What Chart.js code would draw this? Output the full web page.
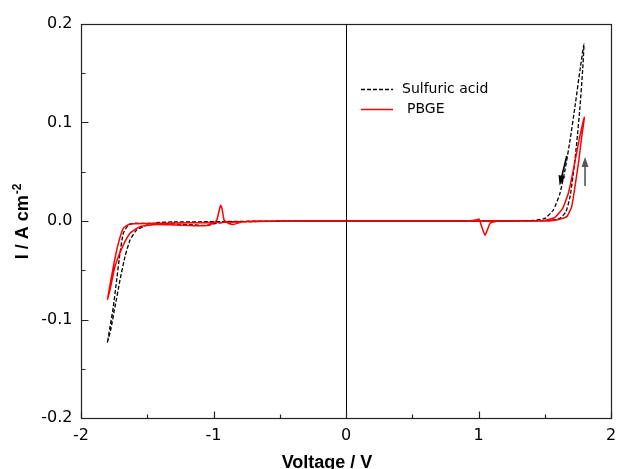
<!DOCTYPE html>
<html>
<head>
<meta charset="utf-8">
<script src="https://cdn.jsdelivr.net/npm/chart.js@4.4.1/dist/chart.umd.min.js"></script>
<style>
  html, body { margin: 0; padding: 0; background: #fff; }
</style>
</head>
<body>
<canvas id="cv" width="617" height="469"></canvas>
<script>
// Sulfuric acid - forward sweep (left tip -> right tip)
const acidFwdV = [-1.801, -1.776, -1.743, -1.706, -1.668, -1.630, -1.580, -1.504, -1.429, -1.3, -1.1, -0.9, -0.5, 0, 0.5, 1.0, 1.3, 1.45, 1.54, 1.615, 1.66, 1.691, 1.716, 1.741, 1.766, 1.786, 1.796];
const acidFwdI = [-0.1235, -0.1107, -0.087, -0.060, -0.0362, -0.0193, -0.0091, -0.0041, -0.0017, -0.001, -0.0008, -0.0005, 0, 0, 0, 0, 0, 0.0002, 0.0005, 0.0027, 0.0094, 0.0247, 0.0484, 0.0789, 0.116, 0.1533, 0.1797];
// Sulfuric acid - return sweep
const acidRetV = [1.766, 1.728, 1.691, 1.653, 1.615, 1.565, 1.502, 1.414, 1.2, 0.8, 0.3, -0.3, -0.7, -0.9, -1.0, -1.05, -1.15, -1.3, -1.45, -1.55, -1.605, -1.643, -1.681, -1.706, -1.731, -1.756, -1.781, -1.801];
const acidRetI = [0.1533, 0.116, 0.0822, 0.0518, 0.0281, 0.0112, 0.0027, 0.0005, 0, 0, 0, 0, -0.0005, -0.001, -0.003, -0.0045, -0.004, -0.003, -0.0025, -0.0024, -0.0023, -0.0041, -0.0125, -0.0328, -0.060, -0.087, -0.1073, -0.1235];

// PBGE - forward sweep
const pbgeFwdV = [-1.801, -1.781, -1.743, -1.693, -1.630, -1.555, -1.429, -1.3, -1.15, -1.05, -1.0, -0.975, -0.955, -0.946, -0.935, -0.92, -0.89, -0.85, -0.80, -0.7, -0.3, 0.3, 0.9, 0.98, 1.004, 1.02, 1.049, 1.07, 1.09, 1.15, 1.3, 1.489, 1.59, 1.666, 1.703, 1.728, 1.754, 1.779, 1.799];
const pbgeFwdI = [-0.080, -0.070, -0.046, -0.028, -0.0125, -0.0058, -0.0035, -0.004, -0.0047, -0.0045, -0.002, 0.001, 0.012, 0.016, 0.012, 0.001, -0.002, -0.0035, -0.0015, -0.0003, 0, 0, 0, 0.001, 0.002, -0.004, -0.0142, -0.008, -0.002, 0, 0, 0, 0.001, 0.0044, 0.0145, 0.0348, 0.0586, 0.0856, 0.1053];
// PBGE - return sweep
const pbgeRetV = [1.754, 1.716, 1.678, 1.635, 1.577, 1.489, 1.3, 0.5, -0.5, -1.0, -1.3, -1.5, -1.63, -1.681, -1.718, -1.756, -1.801];
const pbgeRetI = [0.0789, 0.0518, 0.0281, 0.0129, 0.0038, 0.0003, 0, 0, 0, -0.0015, -0.002, -0.0025, -0.003, -0.0074, -0.0227, -0.0464, -0.080];

// axis ticks
const xMajorTicks = [-2, -1, 0, 1, 2];
const xMinorTicks = [-1.5, -0.5, 0.5, 1.5];
const yMajorTicks = [-0.2, -0.1, 0, 0.1, 0.2];
const yMinorTicks = [-0.15, -0.05, 0.05, 0.15];

// sweep direction arrows (data units)
const arrowFromV = [1.666, 1.804];
const arrowFromI = [0.066, 0.0355];
const arrowToV = [1.612, 1.804];
const arrowToI = [0.036, 0.065];
const arrowColors = ['#000000', '#555555'];

function toPoints(v1, i1, v2, i2) {
  const pts = v1.map((v, k) => ({ x: v, y: i1[k] }));
  v2.forEach((v, k) => pts.push({ x: v, y: i2[k] }));
  return pts;
}

function drawArrow(ctx, x1, y1, x2, y2, color) {
  const ang = Math.atan2(y2 - y1, x2 - x1);
  const hl = 10, hw = 3.5;
  const c = Math.cos(ang), s = Math.sin(ang);
  ctx.strokeStyle = color;
  ctx.fillStyle = color;
  ctx.lineWidth = 1.6;
  ctx.beginPath();
  ctx.moveTo(x1, y1);
  ctx.lineTo(x2 - hl * 0.7 * c, y2 - hl * 0.7 * s);
  ctx.stroke();
  ctx.beginPath();
  ctx.moveTo(x2, y2);
  ctx.lineTo(x2 - hl * c + hw * s, y2 - hl * s - hw * c);
  ctx.lineTo(x2 - hl * c - hw * s, y2 - hl * s + hw * c);
  ctx.closePath();
  ctx.fill();
}

const framePlugin = {
  id: 'frame',
  beforeDatasetsDraw(chart) {
    const { ctx, chartArea: a, scales } = chart;
    // vertical line at 0 V
    const x0 = Math.round(scales.x.getPixelForValue(0)) + 0.5;
    ctx.save();
    ctx.strokeStyle = '#000';
    ctx.lineWidth = 1;
    ctx.beginPath();
    ctx.moveTo(x0, a.top);
    ctx.lineTo(x0, a.bottom);
    ctx.stroke();
    ctx.restore();
  },
  afterDatasetsDraw(chart) {
    const { ctx, chartArea: a, scales } = chart;
    const L = Math.round(a.left) + 0.5, R = Math.round(a.right) + 0.5;
    const T = Math.round(a.top) + 0.5, B = Math.round(a.bottom) + 0.5;
    ctx.save();
    ctx.strokeStyle = '#222';
    ctx.lineWidth = 1.2;
    ctx.strokeRect(L, T, R - L, B - T);

    // inward ticks
    ctx.beginPath();
    xMajorTicks.forEach(v => {
      const px = Math.round(scales.x.getPixelForValue(v)) + 0.5;
      ctx.moveTo(px, B); ctx.lineTo(px, B - 7);
    });
    xMinorTicks.forEach(v => {
      const px = Math.round(scales.x.getPixelForValue(v)) + 0.5;
      ctx.moveTo(px, B); ctx.lineTo(px, B - 4);
    });
    yMajorTicks.forEach(v => {
      const py = Math.round(scales.y.getPixelForValue(v)) + 0.5;
      ctx.moveTo(L, py); ctx.lineTo(L + 7, py);
    });
    yMinorTicks.forEach(v => {
      const py = Math.round(scales.y.getPixelForValue(v)) + 0.5;
      ctx.moveTo(L, py); ctx.lineTo(L + 4, py);
    });
    ctx.stroke();

    // arrows
    arrowFromV.forEach((v, k) => {
      drawArrow(ctx,
        scales.x.getPixelForValue(v), scales.y.getPixelForValue(arrowFromI[k]),
        scales.x.getPixelForValue(arrowToV[k]), scales.y.getPixelForValue(arrowToI[k]),
        arrowColors[k]);
    });

    // legend
    const legendY = [89, 109];
    const textX = [402, 407];
    chart.data.datasets.forEach((ds, k) => {
      const y = legendY[k] + 0.5;
      ctx.strokeStyle = ds.borderColor;
      ctx.lineWidth = ds.borderWidth;
      ctx.setLineDash(ds.borderDash || []);
      ctx.beginPath();
      ctx.moveTo(361, y);
      ctx.lineTo(393, y);
      ctx.stroke();
      ctx.setLineDash([]);
      ctx.fillStyle = '#000';
      ctx.font = '14px "DejaVu Sans"';
      ctx.textBaseline = 'middle';
      ctx.textAlign = 'left';
      ctx.fillText(ds.label, textX[k], y);
    });

    // x axis title (sits a bit left of centre in the original)
    ctx.fillStyle = '#000';
    ctx.font = 'bold 18px "Liberation Sans"';
    ctx.textAlign = 'center';
    ctx.textBaseline = 'alphabetic';
    ctx.fillText('Voltage / V', 327, 468);

    // y axis title with superscript
    ctx.translate(21, 222);
    ctx.rotate(-Math.PI / 2);
    ctx.textAlign = 'left';
    const main = 'I / A cm', sup = '-2';
    ctx.font = 'bold 18px "Liberation Sans"';
    const w1 = ctx.measureText(main).width;
    ctx.font = 'bold 12px "Liberation Sans"';
    const w2 = ctx.measureText(sup).width;
    const start = -(w1 + w2) / 2;
    ctx.font = 'bold 18px "Liberation Sans"';
    ctx.fillText(main, start, 6.5);
    ctx.font = 'bold 12px "Liberation Sans"';
    ctx.fillText(sup, start + w1 + 1, 0);
    ctx.restore();
  }
};

new Chart(document.getElementById('cv'), {
  type: 'line',
  data: {
    datasets: [
      {
        label: 'Sulfuric acid',
        data: toPoints(acidFwdV, acidFwdI, acidRetV, acidRetI),
        borderColor: '#000000',
        borderWidth: 1.3,
        borderDash: [4, 2],
        pointRadius: 0,
        tension: 0.15,
        fill: false,
        order: 1
      },
      {
        label: 'PBGE',
        data: toPoints(pbgeFwdV, pbgeFwdI, pbgeRetV, pbgeRetI),
        borderColor: '#ff0000',
        borderWidth: 1.5,
        pointRadius: 0,
        tension: 0.15,
        fill: false,
        order: 0
      }
    ]
  },
  options: {
    responsive: false,
    animation: false,
    layout: { padding: { top: 24, right: 6, left: 0, bottom: 0 } },
    plugins: { legend: { display: false }, tooltip: { enabled: false } },
    scales: {
      x: {
        type: 'linear',
        min: -2, max: 2,
        afterBuildTicks: s => { s.ticks = xMajorTicks.map(v => ({ value: v })); },
        ticks: {
          color: '#000',
          padding: 8,
          font: { family: '"DejaVu Sans"', size: 16 },
          callback: v => String(v)
        },
        grid: { display: false, drawTicks: false },
        border: { display: false },
        afterFit: s => { s.height = 51; s.paddingLeft = 0; s.paddingRight = 0; }
      },
      y: {
        type: 'linear',
        min: -0.2, max: 0.2,
        afterBuildTicks: s => { s.ticks = yMajorTicks.map(v => ({ value: v })); },
        ticks: {
          color: '#000',
          padding: 8.5,
          font: { family: '"DejaVu Sans"', size: 16 },
          callback: v => v.toFixed(1)
        },
        grid: { display: false, drawTicks: false },
        border: { display: false },
        afterFit: s => { s.width = 81; s.paddingTop = 0; s.paddingBottom = 0; }
      }
    }
  },
  plugins: [framePlugin]
});
</script>
</body>
</html>
